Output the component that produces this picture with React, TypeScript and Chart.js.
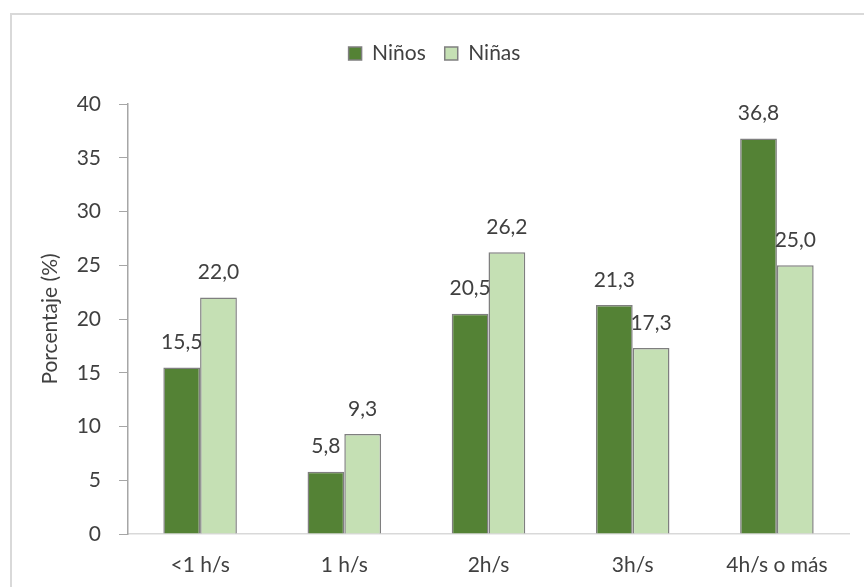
import React, { useEffect, useRef } from "react";
import { Chart, registerables } from "chart.js";

Chart.register(...registerables);

const categories = ["<1 h/s", "1 h/s", "2h/s", "3h/s", "4h/s o más"];
const ninos = [15.5, 5.8, 20.5, 21.3, 36.8];
const ninas = [22.0, 9.3, 26.2, 17.3, 25.0];
const seriesNames = ["Niños", "Niñas"];
const yTitle = "Porcentaje (%)";

const FONT = "Lato";
const TEXT = "#404040";

const framePlugin = {
  id: "frame",
  beforeLayout(chart: any) {
    const lg = chart.legend;
    if (lg && !lg.__patched) {
      const orig = lg.fit;
      lg.fit = function () {
        orig.call(this);
        this.height += 30;
      };
      lg.__patched = true;
    }
  },
  beforeDraw(chart: any) {
    const ctx = chart.ctx;
    ctx.save();
    ctx.fillStyle = "#ffffff";
    ctx.fillRect(0, 0, chart.width, chart.height);
    ctx.strokeStyle = "#d9d9d9";
    ctx.lineWidth = 2;
    ctx.beginPath();
    ctx.moveTo(11, chart.height + 5);
    ctx.lineTo(11, 14);
    ctx.lineTo(chart.width + 5, 14);
    ctx.stroke();
    ctx.restore();
  },
};

const labelPlugin = {
  id: "valueLabels",
  afterDatasetsDraw(chart: any) {
    const ctx = chart.ctx;
    ctx.save();
    ctx.font = `21px ${FONT}`;
    ctx.fillStyle = TEXT;
    ctx.textAlign = "center";
    ctx.textBaseline = "middle";
    chart.data.datasets.forEach((ds: any, i: number) => {
      const meta = chart.getDatasetMeta(i);
      meta.data.forEach((el: any, j: number) => {
        const v = ds.data[j] as number;
        ctx.fillText(v.toFixed(1).replace(".", ","), el.x, el.y - 25);
      });
    });
    ctx.restore();
  },
};

export default function App() {
  const ref = useRef<HTMLCanvasElement>(null);
  useEffect(() => {
    const chart = new Chart(ref.current!, {
      type: "bar",
      data: {
        labels: categories,
        datasets: [
          {
            label: seriesNames[0],
            data: ninos,
            backgroundColor: "#548235",
            borderColor: "#7f7f7f",
            borderWidth: 1.5,
            categoryPercentage: 0.51,
            barPercentage: 1,
          },
          {
            label: seriesNames[1],
            data: ninas,
            backgroundColor: "#c5e0b4",
            borderColor: "#7f7f7f",
            borderWidth: 1.5,
            categoryPercentage: 0.51,
            barPercentage: 1,
          },
        ],
      },
      options: {
        animation: false,
        responsive: false,
        maintainAspectRatio: false,
        layout: { padding: { left: 20, right: 15, top: 24, bottom: 0 } },
        plugins: {
          legend: {
            position: "top",
            labels: {
              boxWidth: 13,
              boxHeight: 13,
              padding: 19,
              color: TEXT,
              font: { family: FONT, size: 21 },
            },
          },
          tooltip: { enabled: false },
        },
        scales: {
          x: {
            grid: { display: false },
            border: { display: true, color: "#d9d9d9", width: 1.5 },
            ticks: { color: TEXT, font: { family: FONT, size: 21 }, padding: 11, maxRotation: 0 },
            afterFit: (s: any) => {
              s.height = 53;
            },
          },
          y: {
            min: 0,
            max: 40,
            ticks: { stepSize: 5, color: TEXT, font: { family: FONT, size: 21 }, padding: 18 },
            grid: { display: true, drawOnChartArea: false, drawTicks: true, tickLength: 9, color: "#a6a6a6" },
            border: { display: true, color: "#a6a6a6", width: 1.5 },
            title: { display: true, text: yTitle, color: TEXT, font: { family: FONT, size: 21 }, padding: { top: 18, bottom: 0 } },
            afterFit: (s: any) => {
              s.width = 108;
            },
          },
        },
      },
      plugins: [framePlugin, labelPlugin],
    });
    return () => chart.destroy();
  }, []);
  return (
    <div style={{ position: "absolute", left: 0, top: 0, width: 864, height: 587 }}>
      <canvas ref={ref} width={864} height={587} style={{ width: 864, height: 587, display: "block" }} />
    </div>
  );
}
